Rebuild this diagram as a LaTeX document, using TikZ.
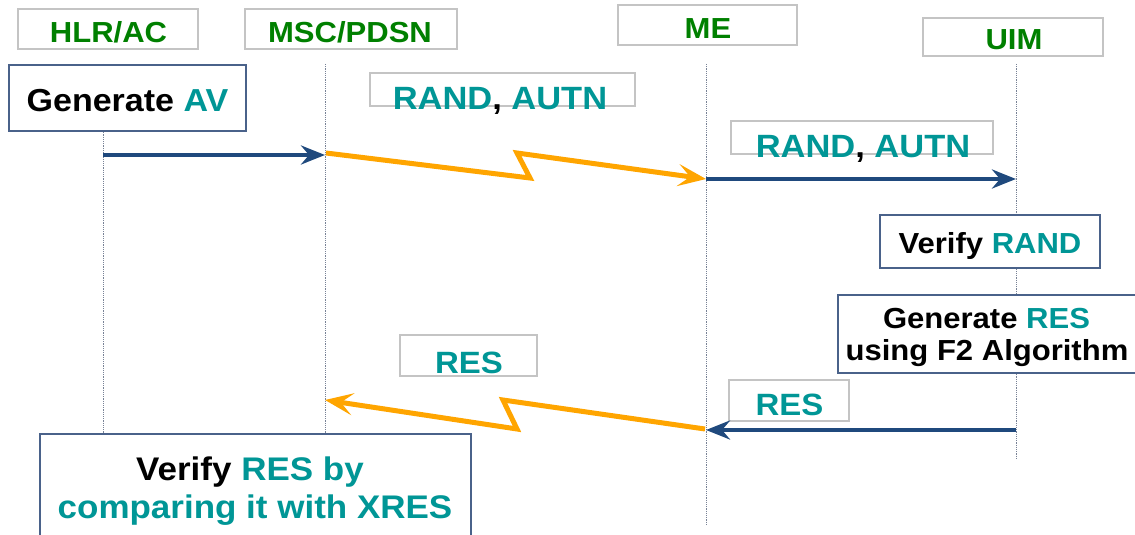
\documentclass[tikz,border=0pt]{standalone}
\usepackage{fontspec}
\setmainfont[FakeStretch=1.07]{Liberation Sans}
\usetikzlibrary{arrows.meta}

\definecolor{hdrgreen}{RGB}{0,128,0}
\definecolor{teal}{RGB}{0,150,150}
\definecolor{msgblue}{RGB}{31,73,125}
\definecolor{airorange}{RGB}{255,165,0}
\definecolor{actframe}{RGB}{74,98,138}
\definecolor{lblframe}{RGB}{196,196,196}
\definecolor{lifegray}{RGB}{120,130,150}

\newcommand{\hl}[1]{\textcolor{teal}{#1}}

\tikzset{
  fsz/.style={font=\fontsize{#1}{#1}\selectfont\bfseries},
  hdrbox/.style={draw=lblframe, line width=1.3pt, fill=white, inner sep=0pt},
  lblbox/.style={draw=lblframe, line width=1.3pt, fill=white, inner sep=0pt},
  actbox/.style={draw=actframe, line width=1.5pt, fill=white, inner sep=0pt},
  txt/.style={anchor=base, inner sep=0pt},
  lifeline/.style={draw=lifegray, line width=1pt, dash pattern=on 1.2pt off 1pt},
  wired/.style={draw=msgblue, line width=4pt,
    -{Stealth[length=24pt, width=19pt, inset=8pt]}},
  wireless/.style={draw=airorange, line width=5pt, line join=miter,
    -{Stealth[length=28pt, width=22pt, inset=12pt]}},
}

\begin{document}
\begin{tikzpicture}[x=1pt, y=-1pt]
\useasboundingbox (0,0) rectangle (1135,535);

% lifeline end points
\coordinate (hlrT) at (103,64);  \coordinate (hlrB) at (103,440);
\coordinate (mscT) at (325,64);  \coordinate (mscB) at (325,440);
\coordinate (meT)  at (706,64);  \coordinate (meB)  at (706,525);
\coordinate (uimT) at (1016,64); \coordinate (uimB) at (1016,460);

\draw[lifeline] (hlrT) -- (hlrB);
\draw[lifeline] (mscT) -- (mscB);
\draw[lifeline] (meT) -- (meB);
\draw[lifeline] (uimT) -- (uimB);

% entity headers
\node[hdrbox, minimum width=180, minimum height=40] (hlrbox) at (108,29) {};
\node[hdrbox, minimum width=212, minimum height=40] (mscbox) at (351,29) {};
\node[hdrbox, minimum width=179, minimum height=40] (mebox)  at (707.5,25) {};
\node[hdrbox, minimum width=180, minimum height=38] (uimbox) at (1013,37) {};
\node[txt, fsz=29, text=hdrgreen] (hlrtxt) at (108.5,43) {HLR/AC};
\node[txt, fsz=29, text=hdrgreen] (msctxt) at (350,43) {MSC/PDSN};
\node[txt, fsz=29, text=hdrgreen] (metxt)  at (708,39) {ME};
\node[txt, fsz=29, text=hdrgreen] (uimtxt) at (1014,49) {UIM};

% HLR/AC: generate authentication vector
\node[actbox, minimum width=237, minimum height=66] (genav) at (127.5,98) {};
\node[txt, fsz=31.8] (genavtxt) at (127.5,111) {Generate \hl{AV}};

% challenge towards the terminal
\node[lblbox, minimum width=265, minimum height=33] (chal1box) at (502.5,89.5) {};
\node[txt, fsz=32.2] (chal1txt) at (500,110) {\hl{RAND}, \hl{AUTN}};
\node[lblbox, minimum width=262, minimum height=33] (chal2box) at (862,137.5) {};
\node[txt, fsz=32.2] (chal2txt) at (863,157) {\hl{RAND}, \hl{AUTN}};

\coordinate (a1s) at (103,155);  \coordinate (a1e) at (325,155);
\coordinate (z1s) at (326,153);  \coordinate (z1a) at (530,178);
\coordinate (z1b) at (517,153);  \coordinate (z1e) at (706,179);
\coordinate (a2s) at (706,179);  \coordinate (a2e) at (1016,179);
\draw[wired] (a1s) -- (a1e);
\draw[wireless] (z1s) -- (z1a) -- (z1b) -- (z1e);
\draw[wired] (a2s) -- (a2e);

% UIM processing
\node[actbox, minimum width=220, minimum height=53] (verrand) at (990,241.5) {};
\node[txt, fsz=29] (verrandtxt) at (990,253) {Verify \hl{RAND}};
\node[actbox, minimum width=302, minimum height=78] (genres) at (989,334) {};
\node[txt, fsz=29] (genres1) at (986.5,328) {Generate \hl{RES}};
\node[txt, fsz=29] (genres2) at (987,360) {using F2 Algorithm};

% response back to the network
\node[lblbox, minimum width=120, minimum height=41] (res2box) at (789,400.5) {};
\node[txt, fsz=30.8] (res2txt) at (789.5,415) {\hl{RES}};
\node[lblbox, minimum width=137, minimum height=41] (res1box) at (468.5,355.5) {};
\node[txt, fsz=30.8] (res1txt) at (469,373) {\hl{RES}};

\coordinate (a3s) at (1016,430); \coordinate (a3e) at (706,430);
\coordinate (z2s) at (705,429);  \coordinate (z2a) at (503,400);
\coordinate (z2b) at (517,429);  \coordinate (z2e) at (325,400);
\draw[wired] (a3s) -- (a3e);
\draw[wireless] (z2s) -- (z2a) -- (z2b) -- (z2e);

% HLR/AC: compare response
\node[actbox, minimum width=431, minimum height=120] (verres) at (255.5,494) {};
\node[txt, fsz=32.7] (verres1) at (250,480) {Verify \hl{RES by}};
\node[txt, fsz=32.7, text=teal] (verres2) at (255,518) {comparing it with XRES};
\end{tikzpicture}
\end{document}
